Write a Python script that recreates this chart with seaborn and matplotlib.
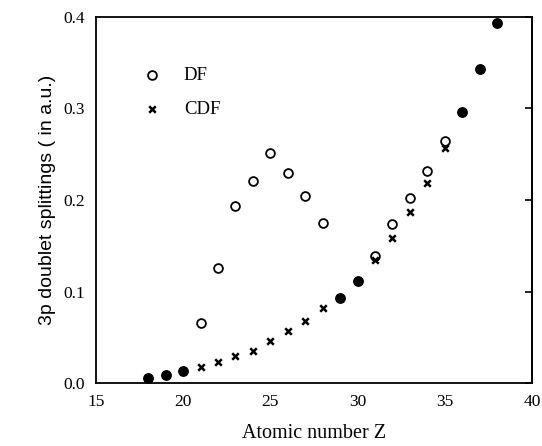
import matplotlib
matplotlib.use("Agg")
import matplotlib.pyplot as plt
import seaborn as sns
import pandas as pd

# Open circles: DF only
df_z = [21, 22, 23, 24, 25, 26, 27, 28, 31, 32, 33, 34, 35]
df_v = [0.0656, 0.126, 0.194, 0.221, 0.251, 0.229, 0.204, 0.175, 0.139, 0.174, 0.202, 0.232, 0.264]
# Crosses: CDF only
cdf_z = [21, 22, 23, 24, 25, 26, 27, 28, 31, 32, 33, 34, 35]
cdf_v = [0.0175, 0.023, 0.030, 0.035, 0.0455, 0.057, 0.068, 0.082, 0.134, 0.158, 0.187, 0.219, 0.2565]
# Filled: DF and CDF coincide
both_z = [18, 19, 20, 29, 30, 36, 37, 38]
both_v = [0.006, 0.0087, 0.013, 0.093, 0.112, 0.2965, 0.343, 0.393]

x_ticks = [15, 20, 25, 30, 35, 40]
y_ticks = [0.0, 0.1, 0.2, 0.3, 0.4]

sns.set_style("white")
plt.rcParams['font.family'] = ['Liberation Serif', 'DejaVu Serif']
plt.rcParams['text.color'] = 'black'
plt.rcParams['axes.labelcolor'] = 'black'

fig = plt.figure(figsize=(5.42, 4.46), dpi=100)
ax = fig.add_axes([0.177, 0.141, 0.8045, 0.821])

sns.scatterplot(x=df_z, y=df_v, ax=ax, marker='o', s=40, facecolor='white',
                edgecolor='black', linewidth=1.3, label='DF', zorder=3)
sns.scatterplot(x=cdf_z, y=cdf_v, ax=ax, marker='x', s=22, color='black',
                linewidth=1.8, label='CDF', zorder=3)
sns.scatterplot(x=both_z, y=both_v, ax=ax, marker='o', s=46, color='black',
                edgecolor='black', linewidth=1.0, zorder=3)

ax.set_xlim(15, 40)
ax.set_ylim(0, 0.4)
ax.set_xticks(x_ticks)
ax.set_xticklabels([str(t) for t in x_ticks])
ax.set_yticks(y_ticks)
ax.set_yticklabels([f"{t:.1f}" for t in y_ticks])

for sp in ax.spines.values():
    sp.set_color('black')
    sp.set_linewidth(1.3)

ax.tick_params(axis='x', direction='in', length=5, width=1.2, labelsize=12.5, pad=8,
               colors='black')
ax.tick_params(axis='y', direction='out', length=5, width=1.2, labelsize=12.5, pad=3,
               colors='black', right=False)
# right ticks inward
ax2 = ax.secondary_yaxis('right')
ax2.set_yticks(y_ticks)
ax2.set_yticklabels([])
ax2.tick_params(direction='in', length=5, width=1.2, colors='black')
ax2.spines['right'].set_linewidth(1.3)
ax2.spines['right'].set_color('black')

ax.set_xlabel('Atomic number Z', fontsize=14.5, labelpad=10, color='black')
ax.set_ylabel('3p doublet splittings ( in a.u.)', fontsize=14, labelpad=5,
              family=['Liberation Sans', 'DejaVu Sans'], color='black')

leg = ax.legend(loc='upper left', bbox_to_anchor=(0.09, 0.885), frameon=False,
                fontsize=13.5, handletextpad=1.2, labelspacing=0.9,
                handlelength=1.0, borderaxespad=0, labelcolor='black')

fig.savefig('out.png', dpi=100)
